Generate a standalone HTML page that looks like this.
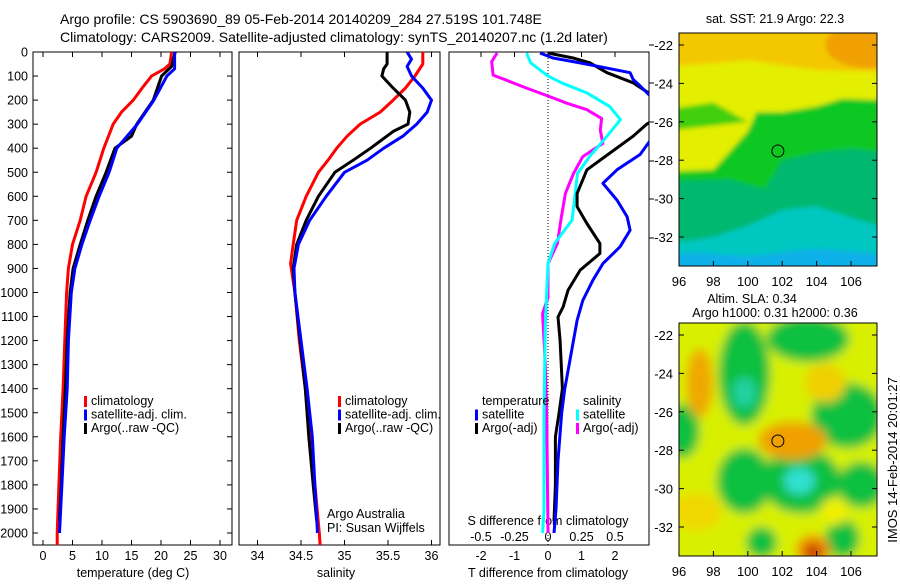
<!DOCTYPE html>
<html><head><meta charset="utf-8"><style>
body{margin:0;background:#fff;width:900px;height:580px;overflow:hidden}
svg{font-family:"Liberation Sans",sans-serif;font-size:12.5px}
</style></head><body>
<svg id="c" width="900" height="580" viewBox="0 0 900 580" xmlns="http://www.w3.org/2000/svg">
<defs>
<clipPath id="cp1"><rect x="33" y="52" width="199" height="493"/></clipPath>
<clipPath id="cp2"><rect x="239" y="52" width="201" height="493"/></clipPath>
<clipPath id="cp3"><rect x="449" y="52" width="200" height="493"/></clipPath>
<clipPath id="cm1"><rect x="679" y="33" width="198" height="233"/></clipPath>
<clipPath id="cm2"><rect x="679" y="323" width="198" height="233"/></clipPath>
<filter id="bl1" x="-0.2" y="-0.2" width="1.4" height="1.4"><feGaussianBlur stdDeviation="2.5"/></filter>
<filter id="bl2" x="-0.2" y="-0.2" width="1.4" height="1.4"><feGaussianBlur stdDeviation="5"/></filter>
</defs>
<text x="60" y="24" font-size="14">Argo profile: CS 5903690_89 05-Feb-2014 20140209_284 27.519S 101.748E</text>
<text x="60" y="42" font-size="14">Climatology: CARS2009. Satellite-adjusted climatology: synTS_20140207.nc (1.2d later)</text>
<g id="g1"></g>
<g id="g2"></g>
<g id="g3"></g>
<g id="m1"></g>
<g id="m2"></g>
<text transform="translate(897,460) rotate(-90)" text-anchor="middle" font-size="13">IMOS 14-Feb-2014 20:01:27</text>
</svg>
<script>
// ---- data ----
const tClimDep=[0,50,70,100,150,200,250,300,400,500,600,700,800,900,1000,1200,1400,1600,1800,2000,2050];
const tClim=[21.8,21.5,20.6,18.4,16.8,15.3,13.3,11.9,10.3,9,7.3,6.3,5,4.3,4.0,3.7,3.4,3.0,2.7,2.4,2.4];
const tArgoDep=[0,60,100,200,300,350,400,500,600,700,800,900,1000,1200,1400,1600,1800,1950];
const tArgo=[22.4,21.8,20.1,18.7,15.9,15,12.2,10.7,9,7.6,6.3,5.1,4.6,4.1,3.8,3.4,3.1,2.8];
const tSatDep=[0,70,100,200,300,400,500,600,700,800,900,1000,1200,1400,1600,1800,2000];
const tSat=[22.3,22.3,21,18.8,16,12.5,11.2,9.5,8,6.6,5.4,4.8,4.3,4.1,3.6,3.2,2.8];
const sClimDep=[0,50,100,150,200,250,300,350,400,450,500,600,700,800,880,1000,1200,1400,1600,1800,2000,2050];
const sClim=[35.9,35.9,35.81,35.7,35.56,35.41,35.18,35.03,34.91,34.81,34.70,34.56,34.45,34.41,34.38,34.43,34.48,34.55,34.6,34.66,34.71,34.72];
const sArgoDep=[0,50,70,100,150,200,250,300,330,400,450,500,600,700,800,900,1000,1200,1400,1600,1800,1950];
const sArgo=[35.49,35.49,35.45,35.43,35.56,35.7,35.75,35.73,35.56,35.3,35.1,34.89,34.7,34.56,34.45,34.41,34.43,34.49,34.55,34.59,34.64,34.68];
const sSatDep=[0,30,60,100,150,200,250,300,350,400,450,500,600,700,800,900,1000,1200,1400,1600,1800,2000];
const sSat=[35.72,35.77,35.72,35.77,35.9,36.0,35.95,35.83,35.67,35.45,35.26,35.0,34.79,34.6,34.47,34.42,34.43,34.5,34.57,34.63,34.66,34.69];
const dTArgoDep=[4,25,45,86,128,170,200,250,300,350,420,490,588,643,713,796,838,907,990,1060,1102,1200,1400,1500,1600,1800,1950];
const dTArgo=[0,0.75,1.25,1.76,2.54,3.0,3.5,3.6,2.95,2.54,1.85,1.16,0.87,0.87,1.16,1.55,1.55,0.96,0.6,0.45,0.3,0.36,0.43,0.33,0.22,0.22,0.18];
const dTSatDep=[4,25,40,61,86,114,141,176,250,378,426,490,546,616,685,741,810,880,949,1033,1116,1400,1500,1700,1900,2000];
const dTSat=[-0.24,0.15,0.75,1.55,2.45,2.54,2.75,3.0,3.6,3.0,2.75,2.06,1.64,2.06,2.36,2.45,2.15,1.64,1.34,1.04,0.87,0.5,0.41,0.3,0.24,0.18];
const dSArgoDep=[4,40,96,115,150,185,213,240,276,325,380,435,505,588,685,796,880,1019,1088,1300,1500,2000];
const dSArgo=[-0.38,-0.42,-0.41,-0.32,-0.16,0.01,0.14,0.29,0.40,0.39,0.41,0.26,0.19,0.13,0.10,0.07,0,0,-0.04,-0.02,-0.01,0];
const dSSatDep=[4,45,100,130,170,226,281,350,435,505,602,699,796,880,1000,1143,1500,1900,2000];
const dSSat=[-0.16,-0.13,0,0.11,0.29,0.46,0.54,0.44,0.31,0.22,0.20,0.18,0.05,0,-0.01,-0.02,-0.03,-0.03,-0.04];
const depthTicks=[0,100,200,300,400,500,600,700,800,900,1000,1100,1200,1300,1400,1500,1600,1700,1800,1900,2000];
const tTicks=[0,5,10,15,20,25,30];
const sTicks=[34,34.5,35,35.5,36];
const dTTicks=[-2,-1,0,1,2];
const dSTicks=[-0.5,-0.25,0,0.25,0.5];
const lonTicks=[96,98,100,102,104,106];
const latTicks=[-22,-24,-26,-28,-30,-32];

// ---- scales ----
const Y=d=>52+d*0.2405;
const XT=t=>43+t*5.9;
const XS=s=>257.5+(s-34)*87;
const XD=t=>548+t*33.5;
const XDS=s=>548+s*134;
const NS='http://www.w3.org/2000/svg';
function el(tag,attrs,parent,txt){const e=document.createElementNS(NS,tag);for(const k in attrs)e.setAttribute(k,attrs[k]);if(txt!==undefined)e.textContent=txt;parent.appendChild(e);return e;}
function path(xs,ds,xf,col,w,parent,name){
  let d='';xs.forEach((v,i)=>{d+=(i?'L':'M')+xf(v).toFixed(1)+' '+Y(ds[i]).toFixed(1);});
  const p=el('path',{d:d,fill:'none',stroke:col,'stroke-width':w,'stroke-linejoin':'round'},parent);
  
  
  return p;
}
function frame(g,x,w,name){
  const r=el('rect',{x:x,y:52,width:w,height:493,fill:'none',stroke:'#000','stroke-width':1},g);
  
  
}
function legend(g,x,y0,items){
  items.forEach((it,i)=>{
    el('rect',{x:x,y:y0+i*13.5-9,width:3,height:11,fill:it[1]},g);
    const t=el('text',{x:x+7,y:y0+i*13.5},g,it[0]);
    
    
  });
}
const g1=document.getElementById('g1'),g2=document.getElementById('g2'),g3=document.getElementById('g3');
// panel 1
frame(g1,33,199,'temperature-axes');
depthTicks.forEach(d=>{
  el('line',{x1:33,x2:38,y1:Y(d),y2:Y(d),stroke:'#000'},g1);
  el('line',{x1:227,x2:232,y1:Y(d),y2:Y(d),stroke:'#000'},g1);
  const t=el('text',{x:28,y:Y(d)+4.5,'text-anchor':'end'},g1,String(d));
  
  
});
tTicks.forEach(v=>{
  el('line',{x1:XT(v),x2:XT(v),y1:52,y2:57,stroke:'#000'},g1);
  el('line',{x1:XT(v),x2:XT(v),y1:540,y2:545,stroke:'#000'},g1);
  const t=el('text',{x:XT(v),y:560,'text-anchor':'middle'},g1,String(v));
  
  
});
el('text',{x:133,y:577,'text-anchor':'middle'},g1,'temperature (deg C)');
const c1=el('g',{'clip-path':'url(#cp1)'},g1);
path(tClim,tClimDep,XT,'#f00',3,c1,'temperature-climatology-line');
path(tArgo,tArgoDep,XT,'#000',3,c1,'temperature-argo-line');
path(tSat,tSatDep,XT,'#00f',3,c1,'temperature-satellite-line');
legend(g1,84,405,[['climatology','#f00'],['satellite-adj. clim.','#00f'],['Argo(..raw -QC)','#000']]);
// panel 2
frame(g2,239,201,'salinity-axes');
sTicks.forEach(v=>{
  el('line',{x1:XS(v),x2:XS(v),y1:52,y2:57,stroke:'#000'},g2);
  el('line',{x1:XS(v),x2:XS(v),y1:540,y2:545,stroke:'#000'},g2);
  const t=el('text',{x:XS(v),y:560,'text-anchor':'middle'},g2,String(v));
  
  
});
el('text',{x:336,y:577,'text-anchor':'middle'},g2,'salinity');
const c2=el('g',{'clip-path':'url(#cp2)'},g2);
path(sClim,sClimDep,XS,'#f00',3,c2,'salinity-climatology-line');
path(sArgo,sArgoDep,XS,'#000',3,c2,'salinity-argo-line');
path(sSat,sSatDep,XS,'#00f',3,c2,'salinity-satellite-line');
legend(g2,338,405,[['climatology','#f00'],['satellite-adj. clim.','#00f'],['Argo(..raw -QC)','#000']]);
el('text',{x:327,y:518},g2,'Argo Australia');
el('text',{x:327,y:532},g2,'PI: Susan Wijffels');
// panel 3
frame(g3,449,200,'difference-axes');
el('line',{x1:548,x2:548,y1:52,y2:545,stroke:'#000','stroke-dasharray':'1,2'},g3);
dTTicks.forEach(v=>{
  el('line',{x1:XD(v),x2:XD(v),y1:52,y2:57,stroke:'#000'},g3);
  const t=el('text',{x:XD(v),y:560,'text-anchor':'middle'},g3,String(v));
  
  
});
dSTicks.forEach(v=>{
  const t=el('text',{x:XDS(v),y:541,'text-anchor':'middle'},g3,String(v));
  
  
});
[45,83,122,161,199,238].forEach(y=>el('line',{x1:649,x2:654,y1:y,y2:y,stroke:'#000'},g3));
el('text',{x:548,y:525,'text-anchor':'middle'},g3,'S difference from climatology');
el('text',{x:548,y:577,'text-anchor':'middle'},g3,'T difference from climatology');
const c3=el('g',{'clip-path':'url(#cp3)'},g3);
path(dSArgo,dSArgoDep,XDS,'#f0f',3,c3,'s-diff-argo-line');
path(dSSat,dSSatDep,XDS,'#0ff',3,c3,'s-diff-satellite-line');
path(dTArgo,dTArgoDep,XD,'#000',3,c3,'t-diff-argo-line');
path(dTSat,dTSatDep,XD,'#00f',3,c3,'t-diff-satellite-line');
el('text',{x:482,y:405},g3,'temperature');
el('text',{x:583,y:405},g3,'salinity');
legend(g3,475,418.5,[['satellite','#00f'],['Argo(-adj)','#000']]);
legend(g3,576,418.5,[['satellite','#0ff'],['Argo(-adj)','#f0f']]);

// ---- maps ----
function map(gid,top,clip,title,filt){
  const g=document.getElementById(gid);
  const MX=l=>679+(l-96)*17.2, MY=la=>top+12+(-22-la)*19.2;
  const bg=el('g',{'clip-path':'url('+clip+')'},g);
  const inner=el('g',{filter:filt},bg);
  const poly=(pts,fill)=>{el('polygon',{points:pts.map(p=>MX(p[0])+','+MY(p[1])).join(' '),fill:fill},inner);};
  const ell=(lo,la,rx,ry,fill)=>{el('ellipse',{cx:MX(lo),cy:MY(la),rx:rx*17.2,ry:ry*19.2,fill:fill},inner);};
  title.forEach(t=>{const e=el('text',{x:t[0],y:t[1],'text-anchor':'middle'},g,t[2]);});
  return {g,bg,inner,poly,ell,MX,MY,finish(){
    el('rect',{x:679,y:top,width:198,height:233,fill:'none',stroke:'#000'},g);
    lonTicks.forEach(l=>{el('line',{x1:MX(l),x2:MX(l),y1:top+233,y2:top+228,stroke:'#000'},g);
      const t=el('text',{x:MX(l),y:top+253,'text-anchor':'middle','font-size':13},g,String(l));});
    latTicks.forEach(la=>{el('line',{x1:679,x2:684,y1:MY(la),y2:MY(la),stroke:'#000'},g);el('line',{x1:872,x2:877,y1:MY(la),y2:MY(la),stroke:'#000'},g);
      const t=el('text',{x:673,y:MY(la)+5,'text-anchor':'end','font-size':13},g,String(la));});
    const c=el('circle',{cx:MX(101.748),cy:MY(-27.519),r:6,fill:'none',stroke:'#000'},g);
    
    
  }};
}
const A=map('m1',33,'#cm1',[[775,23,'sat. SST: 21.9 Argo: 22.3']],'url(#bl1)');
el('rect',{x:640,y:0,width:280,height:300,fill:'#e4ee00'},A.inner);
A.poly([[90,-18],[112,-18],[112,-23.5],[104,-23.3],[100,-22.8],[90,-23.5]],'#f4c800');
A.ell(107,-22,2.5,1.2,'#f0a000');
A.poly([[90,-28.8],[98,-28.5],[99,-27.5],[100,-26.5],[100.5,-25.5],[102,-25.5],[104,-25.2],[105.5,-24.8],[112,-25],[112,-38],[90,-38]],'#10c820');
A.poly([[90,-26],[98,-25],[100,-26],[90,-27]],'#40d010');
A.poly([[90,-29.2],[99,-29],[101,-29.5],[102,-28],[104,-27.6],[106,-27.4],[112,-28],[112,-38],[90,-38]],'#00b870');
A.poly([[90,-33],[98,-32],[100,-31.4],[102,-30.6],[104,-30.4],[106,-31],[112,-32.5],[112,-38],[90,-38]],'#00c8c0');
A.poly([[90,-38],[90,-33],[97,-32.8],[100,-33],[104,-32.6],[112,-33.2],[112,-38]],'#10b0e8');
A.finish();
const B=map('m2',323,'#cm2',[[752,303,'Altim. SLA: 0.34'],[775,317,'Argo h1000: 0.31 h2000: 0.36']],'url(#bl2)');
el('rect',{x:640,y:290,width:280,height:300,fill:'#d8f000'},B.inner);
const gr='#10c040';
B.ell(99.8,-24,1.5,2.7,gr);B.ell(103.5,-22.2,2.4,1.2,gr);B.ell(105.8,-26.2,2.1,1.7,gr);
B.ell(96.2,-27,1,1.4,gr);B.ell(99.8,-29.6,1.6,1.7,gr);B.ell(103.1,-29.6,2.3,1.7,gr);
B.ell(106.6,-29.8,1.4,1.2,gr);B.ell(100.8,-32.8,0.9,0.8,gr);B.ell(105.5,-32.6,1,1,gr);
B.ell(99.8,-25,0.7,0.8,'#20d0a0');B.ell(103,-29.6,0.9,0.7,'#30e0d0');
B.ell(97.2,-24.5,0.8,1.8,'#f0a800');B.ell(102.6,-27.5,2,1,'#f0a000');
B.ell(97,-31.2,1.5,1,'#f0d800');B.ell(103.8,-33.2,1,0.8,'#f09000');B.ell(103.8,-33.3,0.5,0.4,'#c03000');
B.ell(104.5,-24.5,1.2,1,'#f0d000');B.ell(105,-31.2,0.8,0.7,'#f0f000');
B.finish();
</script>
</body></html>
